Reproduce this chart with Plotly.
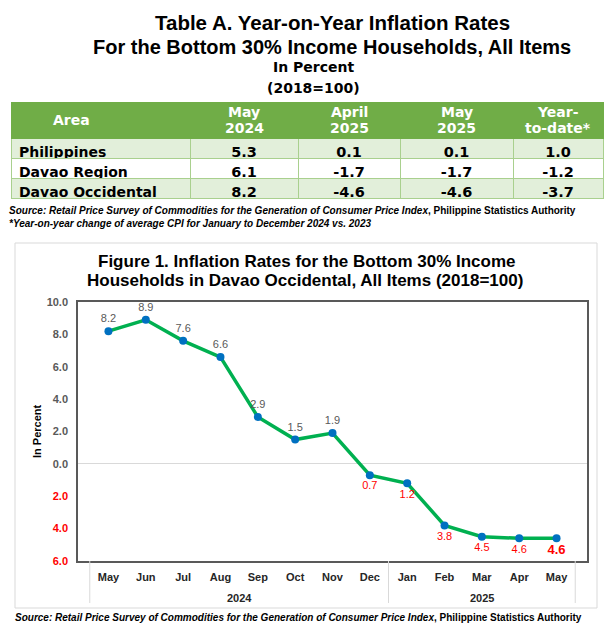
import plotly.graph_objects as go

W, H = 607, 629

# ---------------- data ----------------
table_areas = ["Philippines", "Davao Region", "Davao Occidental"]
table_headers = [["Area"], ["May", "2024"], ["April", "2025"], ["May", "2025"], ["Year-", "to-date*"]]
may_2024 = [5.3, 6.1, 8.2]
april_2025 = [0.1, -1.7, -4.6]
may_2025 = [0.1, -1.7, -4.6]
year_to_date = [1.0, -1.2, -3.7]

months = ["May", "Jun", "Jul", "Aug", "Sep", "Oct", "Nov", "Dec",
          "Jan", "Feb", "Mar", "Apr", "May"]
years = ["2024"] * 8 + ["2025"] * 5
inflation = [8.2, 8.9, 7.6, 6.6, 2.9, 1.5, 1.9, -0.7, -1.2, -3.8, -4.5, -4.6, -4.6]
y_ticks = [-6, -4, -2, 0, 2, 4, 6, 8, 10]

# ---------------- helpers ----------------
def px(x):
    return x / W

def py(y):
    return 1 - y / H

GRAY = "#595959"
RED = "#FF0000"

fig = go.Figure()

# ---------------- table ----------------
def fmt(v):
    return f"{v:.1f}"

cols = [table_areas,
        [fmt(v) for v in may_2024],
        [fmt(v) for v in april_2025],
        [fmt(v) for v in may_2025],
        [fmt(v) for v in year_to_date]]
row_fill = ["#E2EFDA", "#FFFFFF", "#E2EFDA"]
col_widths = [179, 108, 102, 113, 90]
tbl_left, tbl_right, tbl_top, hdr_h = 11, 603, 102, 36

fig.add_trace(go.Table(
    domain=dict(x=[px(tbl_left), px(tbl_right)], y=[py(204), py(tbl_top)]),
    columnwidth=col_widths,
    header=dict(
        values=[""] * 5,
        fill_color="#70AD47",
        line=dict(color="#70AD47", width=1),
        height=hdr_h,
    ),
    cells=dict(
        values=cols,
        fill_color=[row_fill] * 5,
        line=dict(color="#A9D08E", width=1),
        align=["left", "center", "center", "center", "center"],
        font=dict(family="DejaVu Sans", color="black", weight="bold",
                  size=[14, 14.5, 14.5, 14.5, 14.5]),
        height=20,
    ),
))

ann = []
def add_text(x, y, text, size, xanchor="center", bold=True, color="black", angle=0,
             family="Liberation Sans", xref="paper"):
    ann.append(dict(x=px(x) if xref == "paper" else x, y=py(y), xref=xref, yref="paper",
                    text=text, showarrow=False, xanchor=xanchor, yanchor="middle",
                    textangle=angle,
                    font=dict(family=family, size=size, color=color,
                              weight="bold" if bold else "normal")))

# header labels (two-line headers placed line by line)
edges = [tbl_left]
scale = (tbl_right - tbl_left) / sum(col_widths)
for w in col_widths:
    edges.append(edges[-1] + w * scale)
for i, lines in enumerate(table_headers):
    cx = (edges[i] + edges[i + 1]) / 2
    if len(lines) == 1:
        add_text(51, tbl_top + 17.5, lines[0], 14, xanchor="left", color="white",
                 family="DejaVu Sans")
    else:
        add_text(cx, tbl_top + 10, lines[0], 14, color="white", family="DejaVu Sans")
        add_text(cx, tbl_top + 26, lines[1], 14, color="white", family="DejaVu Sans")

# ---------------- line chart ----------------
categories = [f"{m} {y}" for m, y in zip(months, years)]
labels = [fmt(abs(v)) for v in inflation]
labels[-1] = "<b>" + labels[-1] + "</b>"
positions = ["top center" if v >= 0 else "bottom center" for v in inflation]
label_colors = [GRAY if v >= 0 else RED for v in inflation]
label_sizes = [11] * (len(inflation) - 1) + [13]

fig.add_trace(go.Scatter(
    x=categories, y=inflation,
    mode="lines+markers+text",
    line=dict(color="#00B050", width=3.5),
    marker=dict(color="#0070C0", size=8),
    text=labels, textposition=positions,
    textfont=dict(family="Liberation Sans", color=label_colors, size=label_sizes),
    cliponaxis=False,
    showlegend=False,
    xaxis="x", yaxis="y",
))

ticktext = []
for v in y_ticks:
    c = GRAY if v >= 0 else RED
    ticktext.append(f"<span style='color:{c}'><b>{abs(v):.1f}</b></span>")

fig.update_layout(
    width=W, height=H,
    margin=dict(l=0, r=0, t=0, b=0),
    paper_bgcolor="white", plot_bgcolor="white",
    font=dict(family="Liberation Sans"),
    xaxis=dict(
        domain=[px(78), px(587)],
        anchor="y", automargin=False, type="category",
        tickvals=categories, ticktext=months,
        showline=True, linecolor=GRAY, linewidth=1.5, mirror=True,
        showgrid=False, zeroline=False, ticks="", ticklabelstandoff=5,
        tickfont=dict(family="Liberation Sans", size=11, color="#262626", weight="bold"),
    ),
    yaxis=dict(
        domain=[py(561), py(302)],
        anchor="x", automargin=False,
        range=[-6, 10],
        tickvals=y_ticks, ticktext=ticktext,
        showline=True, linecolor=GRAY, linewidth=1.5, mirror=True,
        showgrid=False, zeroline=True, zerolinecolor="#D9D9D9", zerolinewidth=1,
        ticks="", ticklabelstandoff=6,
        tickfont=dict(family="Liberation Sans", size=11, color=GRAY),
    ),
)

# year group labels and dividers below the x axis
year_names = list(dict.fromkeys(years))
bounds = [-0.5]
for yr in year_names:
    idx = [i for i, y in enumerate(years) if y == yr]
    bounds.append(idx[-1] + 0.5)
    add_text((idx[0] + idx[-1]) / 2, 598, yr, 11, xref="x", color="#262626")
for b in bounds:
    fig.add_shape(type="line", xref="x", yref="paper", x0=b, x1=b,
                  y0=py(603), y1=py(561), line=dict(color="#D9D9D9", width=1))

# chart outer border
fig.add_shape(type="rect", xref="paper", yref="paper",
              x0=px(15), x1=px(597), y0=py(608), y1=py(243),
              line=dict(color="#D9D9D9", width=1), fillcolor="rgba(0,0,0,0)")

add_text(332, 23, "Table A. Year-on-Year Inflation Rates", 20.5)
add_text(332, 47.5, "For the Bottom 30% Income Households, All Items", 20)
add_text(313, 67, "In Percent", 14, family="DejaVu Sans")
add_text(313, 88, "(2018=100)", 14, family="DejaVu Sans")

add_text(7, 211, "<i>Source: Retail Price Survey of Commodities for the Generation of Consumer Price Index</i>, Philippine Statistics Authority", 10, xanchor="left")
add_text(7, 224, "<i>*Year-on-year change of average CPI for January to December 2024 vs. 2023</i>", 10, xanchor="left")

add_text(307, 261, "Figure 1. Inflation Rates for the Bottom 30% Income", 17)
add_text(305, 280, "Households in Davao Occidental, All Items (2018=100)", 17)
add_text(37, 431, "In Percent", 11, angle=-90)

add_text(13, 617, "<i>Source: Retail Price Survey of Commodities for the Generation of Consumer Price Index</i>, Philippine Statistics Authority", 10, xanchor="left")

fig.update_layout(annotations=ann)

fig.write_html("out.html",
               config={"displayModeBar": False},
               post_script="document.body.style.margin='0';document.body.style.padding='0';")
